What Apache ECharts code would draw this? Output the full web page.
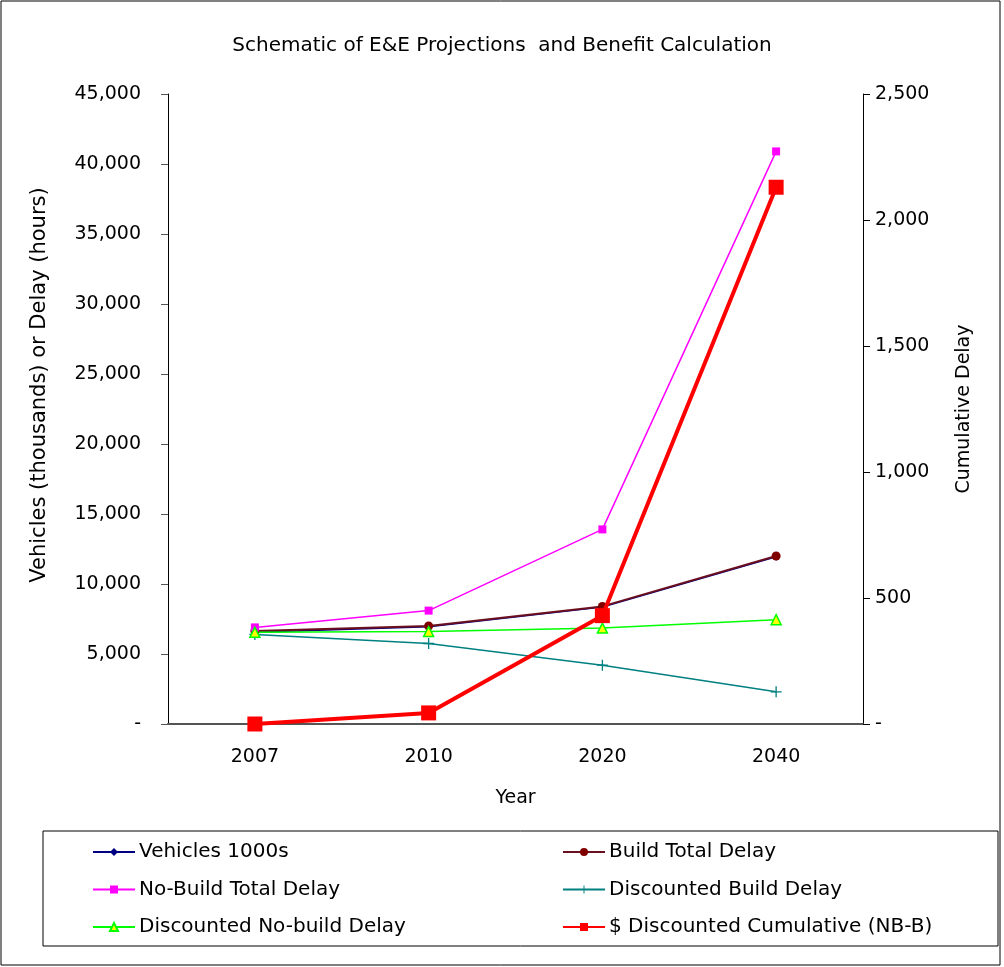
<!DOCTYPE html>
<html>
<head>
    <meta charset="utf-8">
    <title>Schematic of E&amp;E Projections</title>
    <script src="https://cdn.jsdelivr.net/npm/echarts@6/dist/echarts.min.js"></script>
    <style>
        html, body { margin: 0; padding: 0; background: #fff; }
        #chart1 { width: 1004px; height: 967px; }
    </style>
</head>
<body>
<div id="chart1"></div>
<script type="text/javascript">
    // values
    var years = ['2007', '2010', '2020', '2040'];
    var vehicles = [6550, 6950, 8350, 11950];
    var buildDelay = [6650, 7000, 8400, 12000];
    var noBuildDelay = [6900, 8100, 13900, 40900];
    var discBuildDelay = [6400, 5750, 4200, 2300];
    var discNoBuildDelay = [6550, 6600, 6850, 7450];
    var cumulative = [0, 44, 430, 2130];

    // the original text is a wide sans, DejaVu Sans fits its widths best
    var FONT = '"DejaVu Sans", sans-serif';
    var plus = 'path://M4.4,0h1.2v4.4h4.4v1.2h-4.4v4.4h-1.2v-4.4h-4.4v-1.2h4.4z';

    function fmt(v) {
        if (v === 0) return '-';
        return v.toString().replace(/\B(?=(\d{3})+(?!\d))/g, ',');
    }

    var myChart1 = echarts.init(document.getElementById('chart1'));

    var legendText = { fontFamily: FONT, fontSize: 20, color: '#000', padding: [0, 0, 0, -1] };

    myChart1.setOption({
        animation: false,
        backgroundColor: '#fff',
        title: {
            text: 'Schematic of E&E Projections  and Benefit Calculation',
            left: 'center',
            top: 31,
            textStyle: { fontFamily: FONT, fontSize: 20, fontWeight: 'normal', color: '#000' }
        },
        graphic: [
            { type: 'rect', shape: { x: 1, y: 1, width: 999, height: 964 },
              style: { fill: 'none', stroke: '#000', lineWidth: 1 }, z: -1 },
            { type: 'rect', shape: { x: 43, y: 831, width: 955, height: 115 },
              style: { fill: 'none', stroke: '#000', lineWidth: 1 }, z: -1 }
        ],
        legend: [
            {
                orient: 'vertical', left: 87, top: 837, itemGap: 17.5,
                itemWidth: 42, itemHeight: 10,
                textStyle: legendText,
                data: ['Vehicles 1000s', 'No-Build Total Delay', 'Discounted No-build Delay']
            },
            {
                orient: 'vertical', left: 557, top: 837, itemGap: 17.5,
                itemWidth: 42, itemHeight: 10,
                textStyle: legendText,
                data: ['Build Total Delay', 'Discounted Build Delay', '$ Discounted Cumulative (NB-B)']
            }
        ],
        grid: { left: 168, right: 141, top: 94, bottom: 243 },
        xAxis: {
            type: 'category',
            data: years,
            boundaryGap: true,
            name: 'Year',
            nameLocation: 'middle',
            nameGap: 65,
            nameTextStyle: { fontFamily: FONT, fontSize: 19, color: '#000' },
            axisLine: { lineStyle: { color: '#555', width: 2 } },
            axisTick: { length: 8, lineStyle: { color: '#333' } },
            axisLabel: { margin: 24, fontFamily: FONT, fontSize: 19, color: '#000' },
            splitLine: { show: false }
        },
        yAxis: [
            {
                type: 'value',
                min: 0, max: 45000, interval: 5000,
                name: 'Vehicles (thousands) or Delay (hours)',
                nameLocation: 'middle',
                nameRotate: 90,
                nameGap: 118,
                nameTextStyle: { fontFamily: FONT, fontSize: 21, color: '#000', padding: [0, 0, 0, 48] },
                axisLine: { show: true, lineStyle: { color: '#000', width: 1 } },
                axisTick: { show: true, length: 7, lineStyle: { color: '#555' } },
                axisLabel: { margin: 27, fontFamily: FONT, fontSize: 19, color: '#000', formatter: fmt },
                splitLine: { show: false }
            },
            {
                type: 'value',
                min: 0, max: 2500, interval: 500,
                position: 'right',
                name: 'Cumulative Delay',
                nameLocation: 'middle',
                nameRotate: 90,
                nameGap: 92,
                nameTextStyle: { fontFamily: FONT, fontSize: 19, color: '#000' },
                axisLine: { show: true, lineStyle: { color: '#000', width: 1 } },
                axisTick: { show: true, length: 7, lineStyle: { color: '#000' } },
                axisLabel: { margin: 12, fontFamily: FONT, fontSize: 19, color: '#000', formatter: fmt },
                splitLine: { show: false }
            }
        ],
        series: [
            {
                name: 'Vehicles 1000s', type: 'line', data: vehicles,
                symbol: 'diamond', symbolSize: 8,
                lineStyle: { color: '#000080', width: 1.5 },
                itemStyle: { color: '#000080' }, z: 2
            },
            {
                name: 'Build Total Delay', type: 'line', data: buildDelay,
                symbol: 'circle', symbolSize: 9,
                lineStyle: { color: '#6b0f1f', width: 2 },
                itemStyle: { color: '#800000' }, z: 3
            },
            {
                name: 'No-Build Total Delay', type: 'line', data: noBuildDelay,
                symbol: 'rect', symbolSize: 8,
                lineStyle: { color: '#ff00ff', width: 1.5 },
                itemStyle: { color: '#ff00ff' }, z: 3
            },
            {
                name: 'Discounted Build Delay', type: 'line', data: discBuildDelay,
                symbol: plus, symbolSize: 11,
                lineStyle: { color: '#008080', width: 1.5 },
                itemStyle: { color: '#008080' }, z: 3
            },
            {
                name: 'Discounted No-build Delay', type: 'line', data: discNoBuildDelay,
                symbol: 'triangle', symbolSize: 10,
                lineStyle: { color: '#00ff00', width: 1.5 },
                itemStyle: { color: '#ffff00', borderColor: '#00ff00', borderWidth: 1.5 }, z: 3
            },
            {
                name: '$ Discounted Cumulative (NB-B)', type: 'line', data: cumulative,
                yAxisIndex: 1,
                symbol: 'rect', symbolSize: 15,
                lineStyle: { color: '#ff0000', width: 4 },
                itemStyle: { color: '#ff0000' }, z: 4
            }
        ]
    });
</script>
</body>
</html>
